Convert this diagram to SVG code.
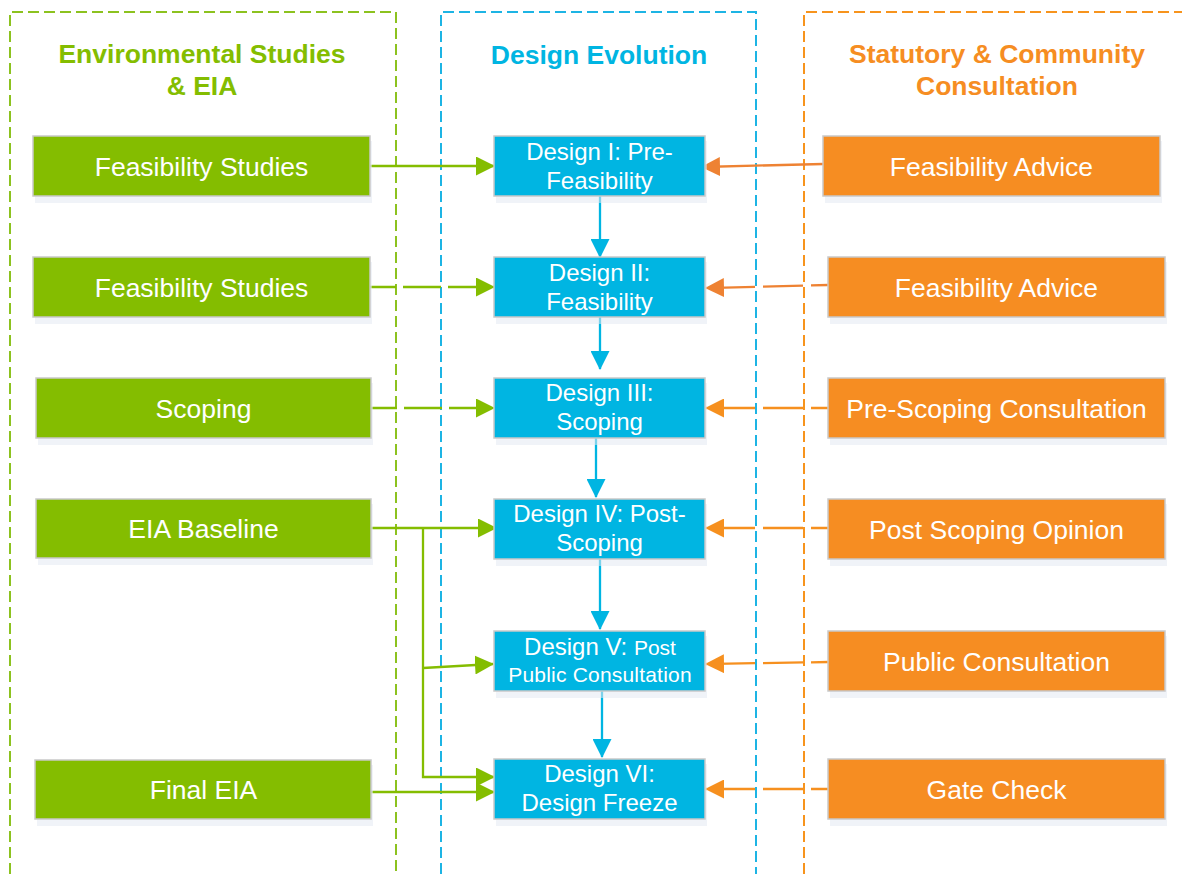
<svg xmlns="http://www.w3.org/2000/svg" width="1182" height="874" viewBox="0 0 1182 874">
<style>
  .lane{fill:none;stroke-width:2;stroke-dasharray:11 5}
  .lg{stroke:#8CC21F}.lb{stroke:#1DB4E4}.lo{stroke:#F7941D}
  .title{font-family:"Liberation Sans",Arial,sans-serif;font-weight:bold;font-size:26.5px;text-anchor:middle}
  .shadow{fill:#E4EAF2;opacity:.55}
  .box{stroke:#C9C9C9;stroke-width:1.5}
  .gf{fill:#84BD00}.bf{fill:#00B5E2}.of{fill:#F68D22}
  .t{font-family:"Liberation Sans",Arial,sans-serif;fill:#FFFFFF;text-anchor:middle}
  .t26{font-size:26.5px}.t24{font-size:24px}.t21{font-size:21px}
  .c{fill:none;stroke-width:2.3}
  .cg{stroke:#84BD00}.cb{stroke:#00B5E2}.co1{stroke:#EE8233}.co{stroke:#F6901F}
  .dg{stroke-dasharray:38 7;stroke-dashoffset:12}
  .do{stroke-dasharray:40 8;stroke-dashoffset:23}
</style>
<defs>
  <marker id="ag" markerUnits="userSpaceOnUse" viewBox="0 0 19 19" markerWidth="19" markerHeight="19" refX="18" refY="9.5" orient="auto"><path d="M0,0 L19,9.5 L0,19 Z" fill="#84BD00"/></marker>
  <marker id="ab" markerUnits="userSpaceOnUse" viewBox="0 0 19 19" markerWidth="19" markerHeight="19" refX="18" refY="9.5" orient="auto"><path d="M0,0 L19,9.5 L0,19 Z" fill="#00B5E2"/></marker>
  <marker id="ao1" markerUnits="userSpaceOnUse" viewBox="0 0 19 19" markerWidth="19" markerHeight="19" refX="18" refY="9.5" orient="auto"><path d="M0,0 L19,9.5 L0,19 Z" fill="#EE8233"/></marker>
  <marker id="ao" markerUnits="userSpaceOnUse" viewBox="0 0 19 19" markerWidth="19" markerHeight="19" refX="18" refY="9.5" orient="auto"><path d="M0,0 L19,9.5 L0,19 Z" fill="#F6901F"/></marker>
</defs>
<rect width="1182" height="874" fill="#FFFFFF"/>

<g id="lanes">
  <g id="lane-env">
    <path class="lane lg" d="M10,874 V12 H396 V874"/>
    <text class="title" fill="#84BD00" x="202" y="63">Environmental Studies</text>
    <text class="title" fill="#84BD00" x="202" y="95">&amp; EIA</text>
  </g>
  <g id="lane-design">
    <path class="lane lb" d="M441,874 V12 H756 V874"/>
    <text class="title" fill="#00B5E2" x="599" y="64">Design Evolution</text>
  </g>
  <g id="lane-consult">
    <path class="lane lo" d="M804,874 V12 H1190"/>
    <text class="title" fill="#F68D22" x="997" y="63">Statutory &amp; Community</text>
    <text class="title" fill="#F68D22" x="997" y="95">Consultation</text>
  </g>
</g>

<g id="connectors">
  <path class="c cg" d="M370,166 H494" marker-end="url(#ag)"/>
  <path class="c cg dg" d="M370,287 H494" marker-end="url(#ag)"/>
  <path class="c cg dg" d="M371,408 H494" marker-end="url(#ag)"/>
  <path class="c cg" d="M371,528 H496" marker-end="url(#ag)"/>
  <path class="c cg" d="M423,528 V777 H494" marker-end="url(#ag)"/>
  <path class="c cg" d="M423,668 L493,664" marker-end="url(#ag)"/>
  <path class="c cg" d="M371,792 H494" marker-end="url(#ag)"/>

  <path class="c cb" d="M600,196 V257" marker-end="url(#ab)"/>
  <path class="c cb" d="M600,317 V369" marker-end="url(#ab)"/>
  <path class="c cb" d="M596,438 V497" marker-end="url(#ab)"/>
  <path class="c cb" d="M600,559 V629" marker-end="url(#ab)"/>
  <path class="c cb" d="M602,691 V757" marker-end="url(#ab)"/>

  <path class="c co1" d="M823,164 L702,167" marker-end="url(#ao1)"/>
  <path class="c co1 do" d="M828,285 L706,288" marker-end="url(#ao1)"/>
  <path class="c co do" d="M828,408 H706" marker-end="url(#ao)"/>
  <path class="c co do" d="M828,528 H706" marker-end="url(#ao)"/>
  <path class="c co do" d="M828,662 L706,664" marker-end="url(#ao)"/>
  <path class="c co do" d="M828,789 H706" marker-end="url(#ao)"/>
</g>

<g id="env-feasibility-1">
  <rect class="shadow" x="35" y="141" width="337" height="62"/>
  <rect class="box gf" x="33" y="136" width="337" height="60"/>
  <text class="t t26" x="201.5" y="175.5">Feasibility Studies</text>
</g>
<g id="env-feasibility-2">
  <rect class="shadow" x="35" y="262" width="337" height="62"/>
  <rect class="box gf" x="33" y="257" width="337" height="60"/>
  <text class="t t26" x="201.5" y="296.5">Feasibility Studies</text>
</g>
<g id="env-scoping">
  <rect class="shadow" x="38" y="383" width="335" height="62"/>
  <rect class="box gf" x="36" y="378" width="335" height="60"/>
  <text class="t t26" x="203.5" y="417.5">Scoping</text>
</g>
<g id="env-baseline">
  <rect class="shadow" x="38" y="504" width="335" height="61"/>
  <rect class="box gf" x="36" y="499" width="335" height="59"/>
  <text class="t t26" x="203.5" y="538">EIA Baseline</text>
</g>
<g id="env-final">
  <rect class="shadow" x="37" y="765" width="336" height="61"/>
  <rect class="box gf" x="35" y="760" width="336" height="59"/>
  <text class="t t26" x="203.5" y="799">Final EIA</text>
</g>

<g id="design-1">
  <rect class="shadow" x="496" y="141" width="211" height="62"/>
  <rect class="box bf" x="494" y="136" width="211" height="60"/>
  <text class="t t24" x="599.5" y="160">Design I: Pre-</text>
  <text class="t t24" x="599.5" y="189">Feasibility</text>
</g>
<g id="design-2">
  <rect class="shadow" x="496" y="262" width="211" height="62"/>
  <rect class="box bf" x="494" y="257" width="211" height="60"/>
  <text class="t t24" x="599.5" y="280.5">Design II:</text>
  <text class="t t24" x="599.5" y="309.5">Feasibility</text>
</g>
<g id="design-3">
  <rect class="shadow" x="496" y="383" width="211" height="62"/>
  <rect class="box bf" x="494" y="378" width="211" height="60"/>
  <text class="t t24" x="599.5" y="401">Design III:</text>
  <text class="t t24" x="599.5" y="429.5">Scoping</text>
</g>
<g id="design-4">
  <rect class="shadow" x="496" y="504" width="211" height="62"/>
  <rect class="box bf" x="494" y="499" width="211" height="60"/>
  <text class="t t24" x="599.5" y="522">Design IV: Post-</text>
  <text class="t t24" x="599.5" y="550.5">Scoping</text>
</g>
<g id="design-5">
  <rect class="shadow" x="496" y="636" width="211" height="62"/>
  <rect class="box bf" x="494" y="631" width="211" height="60"/>
  <text class="t t24" x="600" y="655">Design V: <tspan class="t21">Post</tspan></text>
  <text class="t t21" x="600" y="682" letter-spacing="0.2">Public Consultation</text>
</g>
<g id="design-6">
  <rect class="shadow" x="496" y="764" width="211" height="62"/>
  <rect class="box bf" x="494" y="759" width="211" height="60"/>
  <text class="t t24" x="599.5" y="782">Design VI:</text>
  <text class="t t24" x="599.5" y="810.5">Design Freeze</text>
</g>

<g id="consult-feasibility-1">
  <rect class="shadow" x="825" y="141" width="337" height="62"/>
  <rect class="box of" x="823" y="136" width="337" height="60"/>
  <text class="t t26" x="991.5" y="175.5">Feasibility Advice</text>
</g>
<g id="consult-feasibility-2">
  <rect class="shadow" x="830" y="262" width="337" height="62"/>
  <rect class="box of" x="828" y="257" width="337" height="60"/>
  <text class="t t26" x="996.5" y="296.5">Feasibility Advice</text>
</g>
<g id="consult-prescoping">
  <rect class="shadow" x="830" y="383" width="337" height="62"/>
  <rect class="box of" x="828" y="378" width="337" height="60"/>
  <text class="t t26" x="996.5" y="417.5">Pre-Scoping Consultation</text>
</g>
<g id="consult-postscoping">
  <rect class="shadow" x="830" y="504" width="337" height="62"/>
  <rect class="box of" x="828" y="499" width="337" height="60"/>
  <text class="t t26" x="996.5" y="538.5">Post Scoping Opinion</text>
</g>
<g id="consult-public">
  <rect class="shadow" x="830" y="636" width="337" height="62"/>
  <rect class="box of" x="828" y="631" width="337" height="60"/>
  <text class="t t26" x="996.5" y="670.5">Public Consultation</text>
</g>
<g id="consult-gate">
  <rect class="shadow" x="830" y="764" width="337" height="62"/>
  <rect class="box of" x="828" y="759" width="337" height="60"/>
  <text class="t t26" x="996.5" y="798.5">Gate Check</text>
</g>
</svg>
